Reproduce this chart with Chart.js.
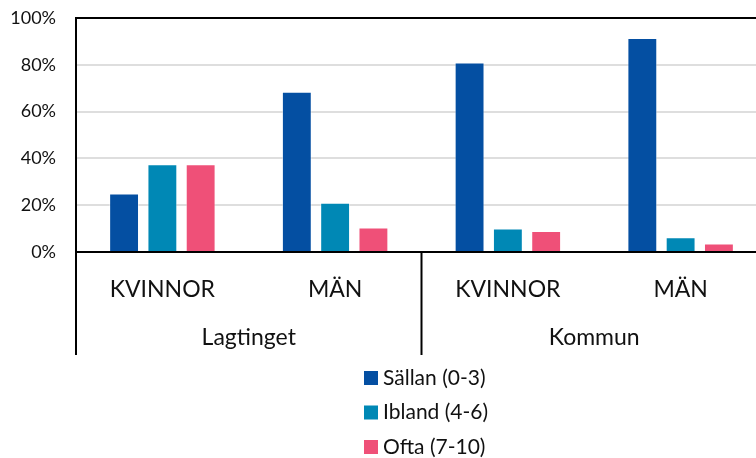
<!DOCTYPE html>
<html lang="sv">
<head>
<meta charset="utf-8">
<title>Sällan / Ibland / Ofta</title>
<script src="https://cdn.jsdelivr.net/npm/chart.js@4/dist/chart.umd.min.js"></script>
<style>
  html, body { margin: 0; padding: 0; background: #fff; overflow: hidden; }
  .wrap { position: relative; width: 768px; height: 458px; }
</style>
</head>
<body>
<div class="wrap"><canvas id="bar-chart"></canvas></div>
<script>

// data =================================================================

const categories = ['KVINNOR', 'MÄN', 'KVINNOR', 'MÄN'];
const groups = ['Lagtinget', 'Kommun'];
const groupSize = [2, 2];
const yTicks = [0, 20, 40, 60, 80, 100];

const sallan = [25, 68.5, 81, 91.5];
const ibland = [37.5, 21, 10, 6.3];
const ofta = [37.5, 10.5, 9, 3.6];

const FONT = 'Lato, "Noto Sans", sans-serif';
const TEXT = '#111';

// group labels + separator lines under the x axis ======================

const groupAxis = {
  id: 'groupAxis',
  afterDraw(chart) {
    const ctx = chart.ctx;
    const x = chart.scales.x;
    const area = chart.chartArea;
    const step = x.width / categories.length;
    const bottom = area.bottom + 103;

    ctx.save();
    ctx.strokeStyle = '#000';
    ctx.lineWidth = 2;
    let idx = 0;
    let edges = [x.getPixelForValue(0) - step / 2];
    groupSize.forEach(n => {
      idx += n;
      edges.push(x.getPixelForValue(idx - 1) + step / 2);
    });
    edges.forEach(px => {
      ctx.beginPath();
      ctx.moveTo(px, area.bottom);
      ctx.lineTo(px, bottom);
      ctx.stroke();
    });

    ctx.fillStyle = TEXT;
    ctx.font = '23px ' + FONT;
    ctx.textAlign = 'center';
    ctx.textBaseline = 'middle';
    groups.forEach((g, i) => {
      ctx.fillText(g, (edges[i] + edges[i + 1]) / 2, area.bottom + 86);
    });
    ctx.restore();
  }
};

// vertical legend under the chart ======================================

const stackLegend = {
  id: 'stackLegend',
  afterDraw(chart) {
    const ctx = chart.ctx;
    ctx.save();
    ctx.font = '21px ' + FONT;
    ctx.textBaseline = 'middle';
    ctx.textAlign = 'left';
    chart.data.datasets.forEach((ds, i) => {
      const y = 378 + i * 34.5;
      ctx.fillStyle = ds.backgroundColor;
      ctx.fillRect(364, y - 7, 14, 14);
      ctx.fillStyle = TEXT;
      ctx.fillText(ds.label, 383, y);
    });
    ctx.restore();
  }
};

// bar chart ============================================================

const barCtx = document.getElementById('bar-chart').getContext('2d');

const barChart = new Chart(barCtx, {
  type: 'bar',
  data: {
    labels: categories,
    datasets: [{
      label: 'Sällan (0-3)',
      data: sallan,
      backgroundColor: '#044fa2',
      borderColor: 'rgba(255, 255, 255, 0.45)',
      borderWidth: 1
    }, {
      label: 'Ibland (4-6)',
      data: ibland,
      backgroundColor: '#0088b5',
      borderColor: 'rgba(255, 255, 255, 0.45)',
      borderWidth: 1
    }, {
      label: 'Ofta (7-10)',
      data: ofta,
      backgroundColor: '#ef5078',
      borderColor: 'rgba(255, 255, 255, 0.45)',
      borderWidth: 1
    }]
  },
  options: {
    responsive: true,
    maintainAspectRatio: false,
    animation: false,
    layout: { padding: { top: 18, right: 1, left: 0, bottom: 0 } },
    datasets: {
      bar: { categoryPercentage: 0.665, barPercentage: 0.78 }
    },
    plugins: {
      legend: { display: false },
      tooltip: { enabled: false }
    },
    scales: {
      x: {
        afterFit: scale => {
          scale.height = 206;
          scale.paddingLeft = 0;
          scale.paddingRight = 0;
        },
        grid: { display: false, drawTicks: false },
        border: { display: true, color: '#000', width: 2 },
        ticks: {
          padding: 24,
          color: TEXT,
          font: { family: FONT, size: 23 },
          maxRotation: 0,
          autoSkip: false
        }
      },
      y: {
        min: 0,
        max: 100,
        afterFit: scale => {
          scale.width = 76;
          scale.paddingTop = 0;
          scale.paddingBottom = 0;
        },
        afterBuildTicks: scale => { scale.ticks = yTicks.map(v => ({ value: v })); },
        grid: {
          drawTicks: false,
          color: c => (c.tick && (c.tick.value === 100 || c.tick.value === 0)) ? '#000' : '#dedede',
          lineWidth: 2
        },
        border: { display: true, color: '#000', width: 2 },
        ticks: {
          padding: 20,
          color: TEXT,
          font: { family: FONT, size: 18 },
          callback: v => v + '%'
        }
      }
    }
  },
  plugins: [groupAxis, stackLegend]
});

</script>
</body>
</html>
